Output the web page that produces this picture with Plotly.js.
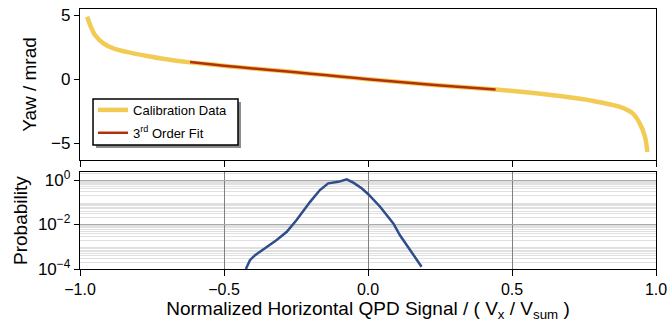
<!DOCTYPE html>
<html>
<head>
<meta charset="utf-8">
<script src="https://cdn.plot.ly/plotly-3.0.1.min.js"></script>
<style>html,body{margin:0;padding:0;background:#fff;}#chart{width:670px;height:326px;}</style>
</head>
<body>
<div id="chart"></div>
<script>
// Calibration data (yaw vs normalized QPD signal)
var calX = [-0.975,-0.965,-0.948,-0.919,-0.884,-0.826,-0.768,-0.711,-0.618,-0.54,-0.468,-0.38,-0.294,-0.2,-0.097,0.0,0.1,0.2,0.3,0.443,0.55,0.667,0.782,0.875,0.92,0.944,0.962,0.970];
var calY = [4.9,4.26,3.47,2.82,2.43,2.09,1.83,1.61,1.33,1.16,0.99,0.82,0.65,0.45,0.22,0.02,-0.19,-0.38,-0.55,-0.78,-1.0,-1.3,-1.68,-2.15,-2.67,-3.45,-4.5,-5.67];
// 3rd order fit
var fitX = [-0.618,-0.5,-0.4,-0.3,-0.2,-0.1,0.0,0.1,0.2,0.3,0.443];
var fitY = [1.36,1.07,0.86,0.66,0.45,0.23,0.02,-0.18,-0.38,-0.56,-0.79];
// Probability distribution
var probX = [-0.424,-0.41,-0.392,-0.364,-0.317,-0.282,-0.248,-0.201,-0.167,-0.138,-0.118,-0.103,-0.074,-0.051,-0.022,0.001,0.042,0.088,0.111,0.146,0.169,0.186];
var probY = [1e-4,2.5e-4,4.2e-4,7.6e-4,2.0e-3,4.7e-3,1.6e-2,0.105,0.355,0.71,0.79,0.83,1.07,0.76,0.43,0.23,0.063,0.0112,0.0033,7.1e-4,2.95e-4,1.26e-4];
// Tick labels
var xTicks = [-1,-0.5,0,0.5,1];
var yawTicks = [-5,0,5];
var probTicks = [1,1e-2,1e-4];
var probTickText = ['10<sup>0</sup>','10<sup>\u22122</sup>','10<sup>\u22124</sup>'];
var probMidDecades = [1e-1,1e-3];

var minorVals = [];
for (var e = -4; e <= 0; e++) {
  for (var d = 2; d <= 9; d++) minorVals.push(d * Math.pow(10, e));
}

var font = "'Liberation Sans', Arial, Helvetica, sans-serif";

var traces = [
  {x: calX, y: calY, type: 'scatter', mode: 'lines', name: 'Calibration Data', legendgroup: 'a',
   line: {color: '#f2cb55', width: 4.5, shape: 'spline', smoothing: 0.8}, xaxis: 'x', yaxis: 'y'},
  {x: fitX, y: fitY, type: 'scatter', mode: 'lines', name: '3<sup>rd</sup> Order Fit', legendgroup: 'b',
   line: {color: '#b3300e', width: 2.5, shape: 'spline', smoothing: 0.8}, xaxis: 'x', yaxis: 'y'},
  {x: probX, y: probY, type: 'scatter', mode: 'lines', showlegend: false,
   line: {color: '#2f4d8c', width: 2.5}, xaxis: 'x2', yaxis: 'y2'}
];

var axLine = {showline: true, mirror: true, linecolor: '#000', linewidth: 1.2, zeroline: false};

var layout = {
  width: 670, height: 326,
  margin: {l: 80, r: 14, t: 9, b: 57},
  paper_bgcolor: '#fff', plot_bgcolor: '#fff',
  font: {family: font, size: 15, color: '#000'},
  showlegend: true,
  legend: {x: 0.0226, y: 0.6695, xanchor: 'left', yanchor: 'top', bgcolor: 'rgba(0,0,0,0)',
           borderwidth: 0, font: {size: 13, family: font}, tracegroupgap: 3},
  xaxis: Object.assign({domain: [0, 1], anchor: 'y', range: [-1, 1], tickvals: xTicks,
          showticklabels: false, ticks: 'outside', ticklen: 6, tickcolor: '#000', showgrid: false}, axLine),
  yaxis: Object.assign({domain: [0.419, 1], anchor: 'x', range: [-6.3, 5.5], tickvals: yawTicks,
          ticks: 'outside', ticklen: 5, tickcolor: '#000', showgrid: false, tickfont: {size: 17},
          title: {text: 'Yaw / mrad', font: {size: 19}, standoff: 9}}, axLine),
  xaxis2: Object.assign({domain: [0, 1], anchor: 'y2', range: [-1, 1], tickvals: xTicks, tickformat: '.1f',
          ticks: 'outside', ticklen: 6, tickcolor: '#000', showgrid: true, gridcolor: '#808080', gridwidth: 1,
          tickfont: {size: 16},
          title: {text: 'Normalized Horizontal QPD Signal / ( V<sub>x</sub> / V<sub>sum</sub> )', font: {size: 19}, standoff: 3}}, axLine),
  yaxis2: Object.assign({domain: [0, 0.372], anchor: 'x2', type: 'log', range: [-4, 0.35],
          tickvals: probTicks, ticktext: probTickText, ticks: 'outside', ticklen: 5, tickcolor: '#000',
          showgrid: true, gridcolor: '#aaaaaa', gridwidth: 1, tickfont: {size: 17},
          minor: {tickvals: minorVals, showgrid: true, gridcolor: '#e0e0e0', gridwidth: 1, ticks: ''},
          title: {text: 'Probability', font: {size: 19}, standoff: 5}}, axLine),
  yaxis3: {overlaying: 'y2', anchor: 'x2', type: 'log', range: [-4, 0.35], tickvals: probMidDecades,
          showticklabels: false, ticks: '', showgrid: true, gridcolor: '#aaaaaa', gridwidth: 1,
          showline: false, zeroline: false},
  shapes: [
    {type: 'rect', xref: 'paper', yref: 'paper', x0: 0.0278, x1: 0.2795, y0: 0.4654, y1: 0.6423,
     fillcolor: '#8c8c8c', line: {width: 0}, layer: 'above'},
    {type: 'rect', xref: 'paper', yref: 'paper', x0: 0.0226, x1: 0.2743, y0: 0.4769, y1: 0.6538,
     fillcolor: '#ffffff', line: {width: 1.5, color: '#000'}, layer: 'above'}
  ]
};

Plotly.newPlot('chart', traces, layout, {displayModeBar: false, staticPlot: true});
</script>
</body>
</html>
